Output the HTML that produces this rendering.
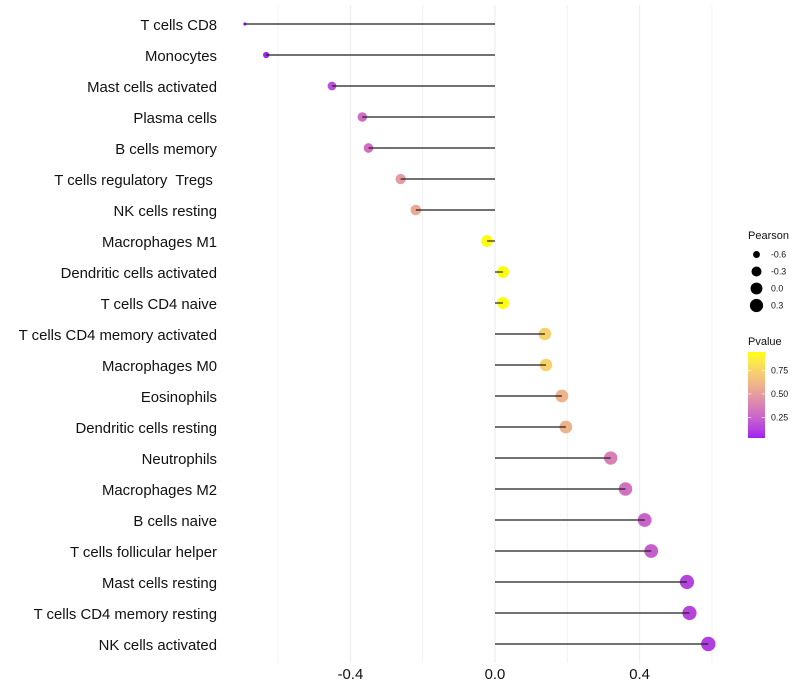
<!DOCTYPE html>
<html>
<head>
<meta charset="utf-8">
<title>Immune cell correlation lollipop chart</title>
<style>
html,body{margin:0;padding:0;background:#fff;}
svg{display:block;font-family:"Liberation Sans",sans-serif;}
text{white-space:pre;}
</style>
</head>
<body>
<svg id="chart" width="800" height="700" viewBox="0 0 800 700" xmlns="http://www.w3.org/2000/svg">
<defs><linearGradient id="pgrad" x1="0" y1="1" x2="0" y2="0"></linearGradient></defs>
<rect x="0" y="0" width="800" height="700" fill="#fff"/>
<g id="grid"></g>
<g id="sticks"></g>
<g id="ylabels"></g>
<g id="xlabels"></g>
<g id="legend-size"></g>
<g id="legend-color"></g>
</svg>
<script>
const categories = ["T cells CD8","Monocytes","Mast cells activated","Plasma cells","B cells memory","T cells regulatory  Tregs ","NK cells resting","Macrophages M1","Dendritic cells activated","T cells CD4 naive","T cells CD4 memory activated","Macrophages M0","Eosinophils","Dendritic cells resting","Neutrophils","Macrophages M2","B cells naive","T cells follicular helper","Mast cells resting","T cells CD4 memory resting","NK cells activated"];
const pearson = [-0.692,-0.633,-0.451,-0.367,-0.350,-0.261,-0.219,-0.022,0.022,0.022,0.138,0.141,0.185,0.196,0.320,0.361,0.414,0.432,0.531,0.538,0.590];
const pvalue = [0.03,0.04,0.17,0.29,0.30,0.49,0.55,0.94,0.94,0.94,0.74,0.74,0.60,0.60,0.37,0.31,0.25,0.23,0.13,0.13,0.11];
const xMajorTicks = [-0.4,0,0.4];
const xMinorTicks = [-0.6,-0.2,0.2,0.6];
const xTickLabels = ["-0.4","0.0","0.4"];
const sizeLegendValues = [-0.6,-0.3,0,0.3];
const sizeLegendLabels = ["-0.6","-0.3","0.0","0.3"];
const colorLegendValues = [0.25,0.5,0.75];
const colorLegendLabels = ["0.25","0.50","0.75"];

const SVGNS = "http://www.w3.org/2000/svg";
function mk(parent, tag, attrs, txt){
  const el = document.createElementNS(SVGNS, tag);
  for(const k in attrs) el.setAttribute(k, attrs[k]);
  if(txt !== undefined) el.textContent = txt;
  parent.appendChild(el);
  return el;
}
const xScale = v => 495 + v * 361.5;
const yScale = i => 24 + i * 31;
const rMin = Math.min(...pearson), rMax = Math.max(...pearson);
const rScale = v => 1.6 + 5.6 * Math.pow(Math.max(0, (v - rMin) / (rMax - rMin)), 0.42);
const pLow = 0.03, pHigh = 0.947;

function toLab(c){
  const f = x => { x/=255; return x>0.04045?Math.pow((x+0.055)/1.055,2.4):x/12.92; };
  const [r,g,b] = c.map(f);
  const X=(0.4124*r+0.3576*g+0.1805*b)/0.95047, Y=0.2126*r+0.7152*g+0.0722*b, Z=(0.0193*r+0.1192*g+0.9505*b)/1.08883;
  const h = t => t>0.008856?Math.cbrt(t):7.787*t+16/116;
  return [116*h(Y)-16, 500*(h(X)-h(Y)), 200*(h(Y)-h(Z))];
}
function fromLab(l){
  const fy=(l[0]+16)/116, fx=fy+l[1]/500, fz=fy-l[2]/200;
  const h = t => t*t*t>0.008856?t*t*t:(t-16/116)/7.787;
  const X=h(fx)*0.95047,Y=h(fy),Z=h(fz)*1.08883;
  const lin=[3.2406*X-1.5372*Y-0.4986*Z,-0.9689*X+1.8758*Y+0.0415*Z,0.0557*X-0.2040*Y+1.0570*Z];
  const g = v => { v=Math.max(0,Math.min(1,v)); return Math.round(255*(v>0.0031308?1.055*Math.pow(v,1/2.4)-0.055:12.92*v)); };
  return "rgb("+lin.map(g).join(",")+")";
}
const labA = toLab([160,32,240]), labB = toLab([255,255,0]);
const colorScale = p => {
  const t = Math.max(0, Math.min(1, (p - pLow) / (pHigh - pLow)));
  return fromLab(labA.map((a,i)=>a+(labB[i]-a)*t));
};

const gridG = document.getElementById("grid");
xMinorTicks.forEach(v => {
  const el = mk(gridG,"line",{x1:xScale(v),x2:xScale(v),y1:5,y2:663,stroke:"#f2f2f2","stroke-width":1});
  
  
});
xMajorTicks.forEach(v => {
  const el = mk(gridG,"line",{x1:xScale(v),x2:xScale(v),y1:5,y2:663,stroke:"#eeeeee","stroke-width":1.2});
  
  
});

const sticks = document.getElementById("sticks");
categories.forEach((c,i) => {
  const dot = mk(sticks,"circle",{cx:xScale(pearson[i]),cy:yScale(i),r:rScale(pearson[i]),fill:colorScale(pvalue[i])});
  
  
  const ln = mk(sticks,"line",{x1:xScale(0),x2:xScale(pearson[i]),y1:yScale(i),y2:yScale(i),stroke:"#222","stroke-opacity":0.85,"stroke-width":1.4});
  
  
});

const yl = document.getElementById("ylabels");
categories.forEach((c,i) => {
  const t = mk(yl,"text",{x:217,y:yScale(i)+6,"text-anchor":"end","font-size":14.9,fill:"#111"},c);
  
  
});

const xl = document.getElementById("xlabels");
xMajorTicks.forEach((v,i) => {
  const t = mk(xl,"text",{x:xScale(v),y:679,"text-anchor":"middle","font-size":14.9,fill:"#111"},xTickLabels[i]);
  
  
});

const ls = document.getElementById("legend-size");
const st = mk(ls,"text",{x:748,y:239,"font-size":11,fill:"#111"},"Pearson");


sizeLegendValues.forEach((v,i) => {
  const y = 254.5 + i * 17;
  const d = mk(ls,"circle",{cx:756.5,cy:y,r:rScale(v),fill:"#000"});
  
  
  const t = mk(ls,"text",{x:771,y:y+3,"font-size":8.8,fill:"#111"},sizeLegendLabels[i]);
  
  
});

const lc = document.getElementById("legend-color");
const ct = mk(lc,"text",{x:748,y:345,"font-size":11,fill:"#111"},"Pvalue");


const grad = document.getElementById("pgrad");
for(let i=0;i<=20;i++){
  mk(grad,"stop",{offset:(i/20),"stop-color":colorScale(pLow+(pHigh-pLow)*i/20)});
}
const barTop = 352, barBottom = 438;
const pY = p => barBottom - (p - pLow) / (pHigh - pLow) * (barBottom - barTop);
const bar = mk(lc,"rect",{x:748,y:barTop,width:17,height:barBottom-barTop,fill:"url(#pgrad)"});


colorLegendValues.forEach((v,i) => {
  const y = pY(v);
  const a = mk(lc,"line",{x1:748,x2:751.4,y1:y,y2:y,stroke:"#fff","stroke-width":0.6});
  
  
  const b = mk(lc,"line",{x1:761.6,x2:765,y1:y,y2:y,stroke:"#fff","stroke-width":0.6});
  
  
  const t = mk(lc,"text",{x:771,y:y+3,"font-size":8.8,fill:"#111"},colorLegendLabels[i]);
  
  
});
</script>
</body>
</html>
